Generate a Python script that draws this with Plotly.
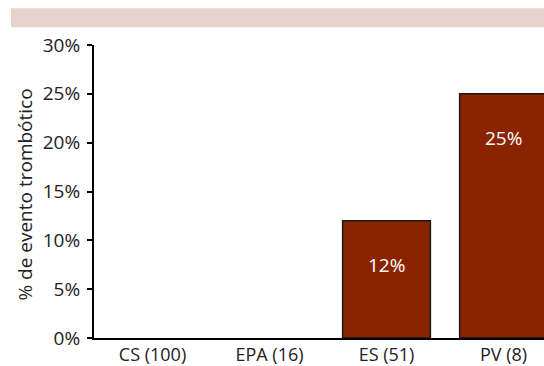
import plotly.graph_objects as go

# Thrombotic events by group
categorias = ["CS (100)", "EPA (16)", "ES (51)", "PV (8)"]
porcentajes = [0, 0, 12, 25]
ticks_y = [0, 5, 10, 15, 20, 25, 30]
ticks_y_txt = ["0%", "5%", "10%", "15%", "20%", "25%", "30%"]

FONT = "Open Sans"
W = 400
BAR = "#8a2300"
TXT = "#222222"

# empty groups get no outline so nothing shows at zero
bordes = [1.5 if v > 0 else 0 for v in porcentajes]

fig = go.Figure()
fig.add_trace(go.Bar(
    x=categorias,
    y=porcentajes,
    marker=dict(color=BAR, line=dict(color="#1a1a1a", width=bordes)),
    hoverinfo="skip",
))

# value labels in the upper part of each non-empty bar
for c, v in zip(categorias, porcentajes):
    if v > 0:
        fig.add_annotation(x=c, y=v, text=f"{v}%", showarrow=False,
                           yshift=-44,
                           font=dict(family=FONT, size=19, color="white", weight=W))

# decorative band across the top
fig.add_shape(type="rect", xref="paper", yref="paper",
              x0=-0.1844, x1=1.0, y0=1.061, y1=1.1254,
              fillcolor="#e6d3cc", line=dict(width=0), layer="below")

# y axis title
fig.add_annotation(xref="paper", yref="paper", x=-0.153, y=0.49,
                   xanchor="center", yanchor="middle",
                   text="% de evento trombótico", textangle=-90, showarrow=False,
                   font=dict(family=FONT, size=19, color=TXT, weight=W))

fig.update_layout(
    width=544, height=366,
    margin=dict(l=94, r=0, t=45, b=26),
    paper_bgcolor="white", plot_bgcolor="white",
    showlegend=False, bargap=0.25,
    font=dict(family=FONT, size=19, color=TXT, weight=W),
    xaxis=dict(range=[-0.5, 3.346], showgrid=False, showline=True,
               linecolor="black", linewidth=1.5, ticks="", zeroline=False,
               tickfont=dict(family=FONT, size=18, color=TXT, weight=W)),
    yaxis=dict(range=[0, 30], tickvals=ticks_y, ticktext=ticks_y_txt,
               showgrid=False, showline=True, linecolor="black", linewidth=2,
               ticks="outside", ticklen=5, tickwidth=2, tickcolor="black",
               ticklabelstandoff=3, zeroline=False,
               tickfont=dict(family=FONT, size=19, color=TXT, weight=W)),
)

fig.write_html("out.html")
